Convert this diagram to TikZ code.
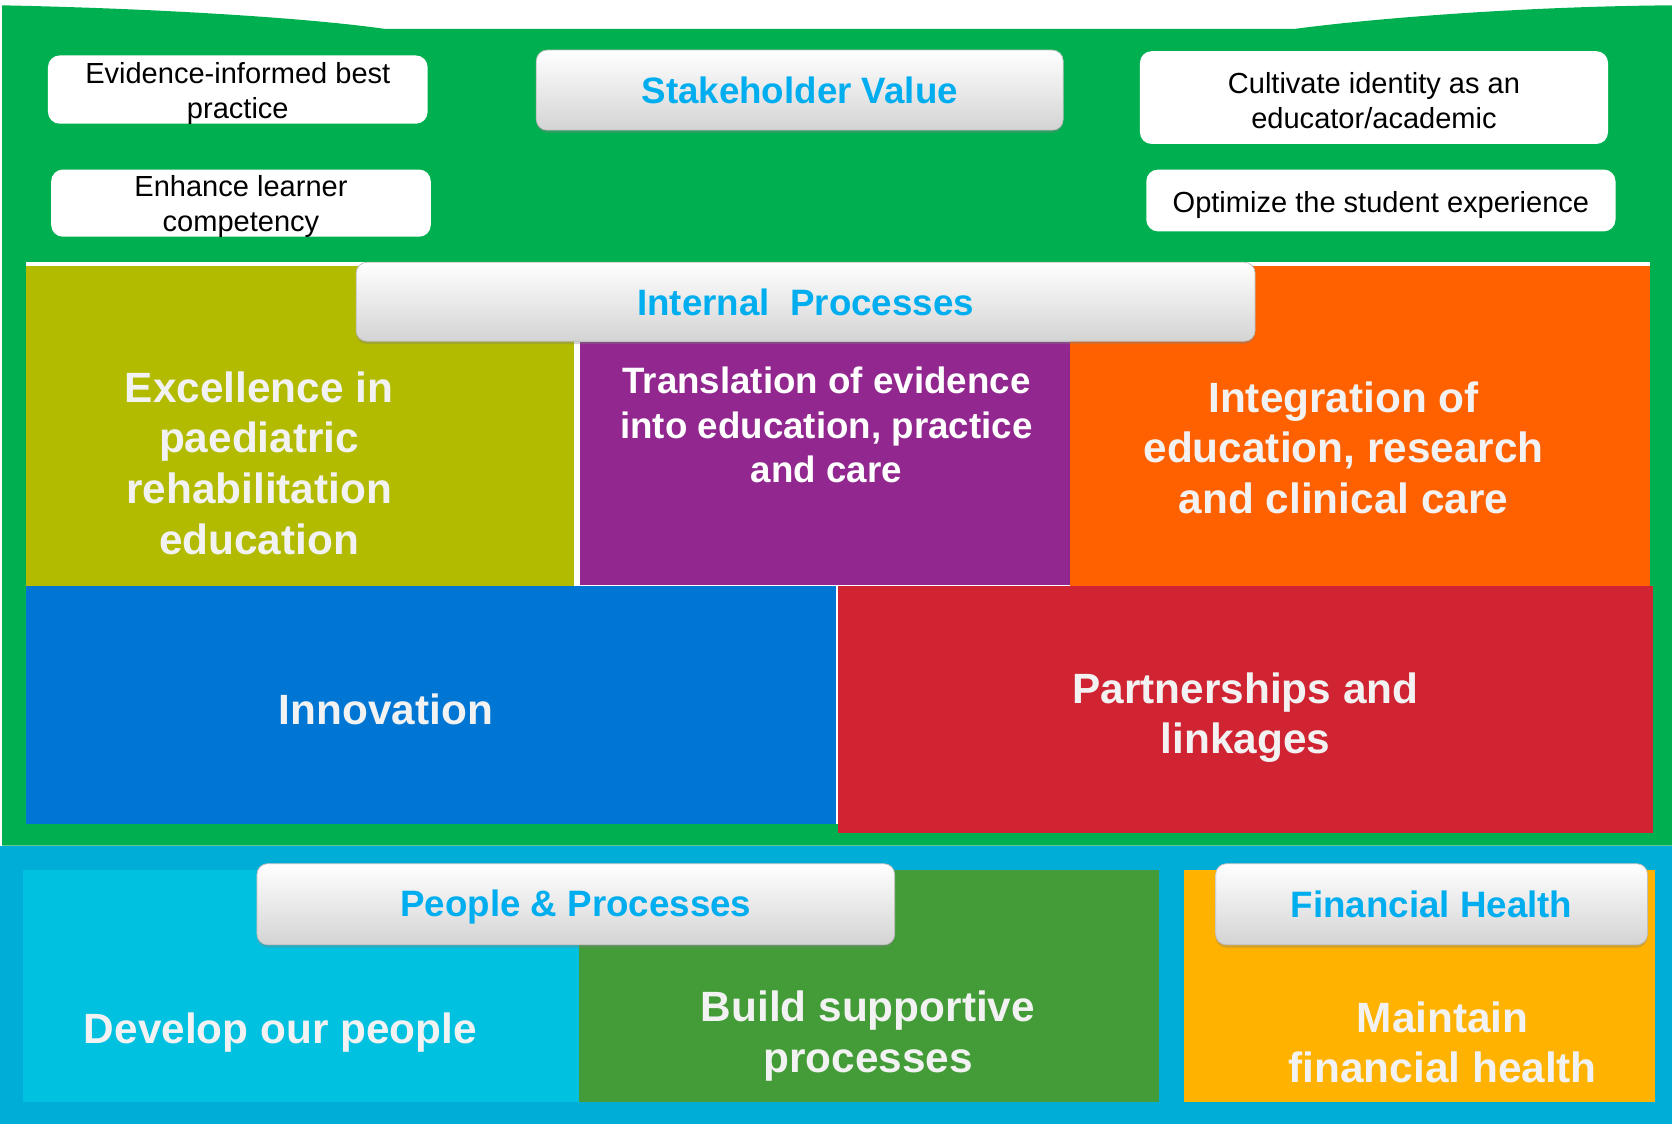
\documentclass[tikz,border=0pt]{standalone}
\usepackage{fontspec}
\setmainfont{Liberation Sans}
\usetikzlibrary{shadows}

\definecolor{valuegreen}{HTML}{00B050}
\definecolor{peopleblue}{HTML}{00ADD7}
\definecolor{olivebox}{HTML}{B2BB00}
\definecolor{purplebox}{HTML}{92278F}
\definecolor{orangebox}{HTML}{FF6000}
\definecolor{innovblue}{HTML}{0076D4}
\definecolor{redbox}{HTML}{D02433}
\definecolor{cyanbox}{HTML}{00C1E0}
\definecolor{buildgreen}{HTML}{439C37}
\definecolor{amberbox}{HTML}{FFB200}
\definecolor{titleblue}{HTML}{00AEEF}
\definecolor{paneltext}{HTML}{F2F2F2}

\begin{document}
\begin{tikzpicture}[x=0.02cm, y=-0.02cm,
    note/.style={rounded corners=0.22cm, fill=white},
    notetext/.style={align=center, inner sep=0pt, font=\fontsize{15.5}{18.7}\selectfont},
    btn/.style={rounded corners=0.2cm, draw=black!25, top color=white, middle color=white!95!black, bottom color=black!17,
        drop shadow={opacity=0.35, shadow xshift=0pt, shadow yshift=-1.5pt}},
    btntext/.style={text=titleblue, inner sep=0pt, font=\bfseries\fontsize{19.6}{23.5}\selectfont},
    big/.style={align=center, text=paneltext, font=\bfseries\fontsize{22.6}{27.2}\selectfont},
    mid/.style={align=center, text=white, font=\bfseries\fontsize{19.6}{23.8}\selectfont}]

    \useasboundingbox (0,0) rectangle (1568,1054);
    \fill[white] (0,0) rectangle (1568,1054);

    % backgrounds
    \fill[valuegreen] (2,5) .. controls (150,8) and (290,17) .. (360,27) -- (1215,27)
        .. controls (1290,17) and (1430,6) .. (1568,5) -- (1568,793) -- (2,793) -- cycle;
    \fill[peopleblue] (0,793) rectangle (1568,1054);

    % internal processes panels
    \fill[white] (24,246) rectangle (1547,550);
    \fill[olivebox] (24,249) rectangle (538,550);
    \fill[purplebox] (544,321) rectangle (1003,549);
    \fill[orangebox] (1003,249) rectangle (1547,550);
    \fill[innovblue] (24,550) rectangle (784,773);
    \fill[white] (784,550) rectangle (786,773);
    \fill[redbox] (786,550) rectangle (1550,781);

    % people and finance panels
    \fill[cyanbox] (22,816) rectangle (543,1033);
    \fill[buildgreen] (543,816) rectangle (1087,1033);
    \fill[amberbox] (1110,816) rectangle (1552,1033);

    % stakeholder notes
    \fill[note] (45,52) rectangle (401,116);
    \fill[note] (48,159) rectangle (404,222);
    \fill[note] (1069,48) rectangle (1508,135);
    \fill[note] (1075,159) rectangle (1515,217);
    \node[notetext] (evid) at (223,88) {Evidence-informed best\\practice};
    \node[notetext] (learn) at (226,194) {Enhance learner\\competency};
    \node[notetext] (ident) at (1288.5,94) {Cultivate identity as an\\educator/academic};
    \node[notetext] (student) at (1295,192) {Optimize the student experience};

    % headings
    \path[btn] (503,47) rectangle (997,122);
    \path[btn] (334,246) rectangle (1177,320);
    \path[btn] (241,810) rectangle (839,886);
    \path[btn] (1140,810) rectangle (1545,886);
    \node[btntext] (stake) at (750,84.5) {Stakeholder Value};
    \node[btntext] (internal) at (755.5,284) {Internal~~Processes};
    \node[btntext] (people) at (540,851) {People \& Processes};
    \node[btntext] (finance) at (1342.5,848) {Financial Health};

    % panel texts
    \node[big] (excel) at (243,434.5) {Excellence in\\paediatric\\rehabilitation\\education};
    \node[mid] (transl) at (775,398.5) {Translation of evidence\\into education, practice\\and care};
    \node[big] (integ) at (1260,420) {Integration of\\education, research\\and clinical care};
    \node[big] (innov) at (362,665) {Innovation};
    \node[big] (partner) at (1168,673) {Partnerships and\\linkages};
    \node[big] (develop) at (263,968) {Develop our people};
    \node[big] (build) at (814,972) {Build supportive\\processes};
    \node[big] (maintain) at (1353,977.5) {Maintain\\financial health};

\end{tikzpicture}
\end{document}
